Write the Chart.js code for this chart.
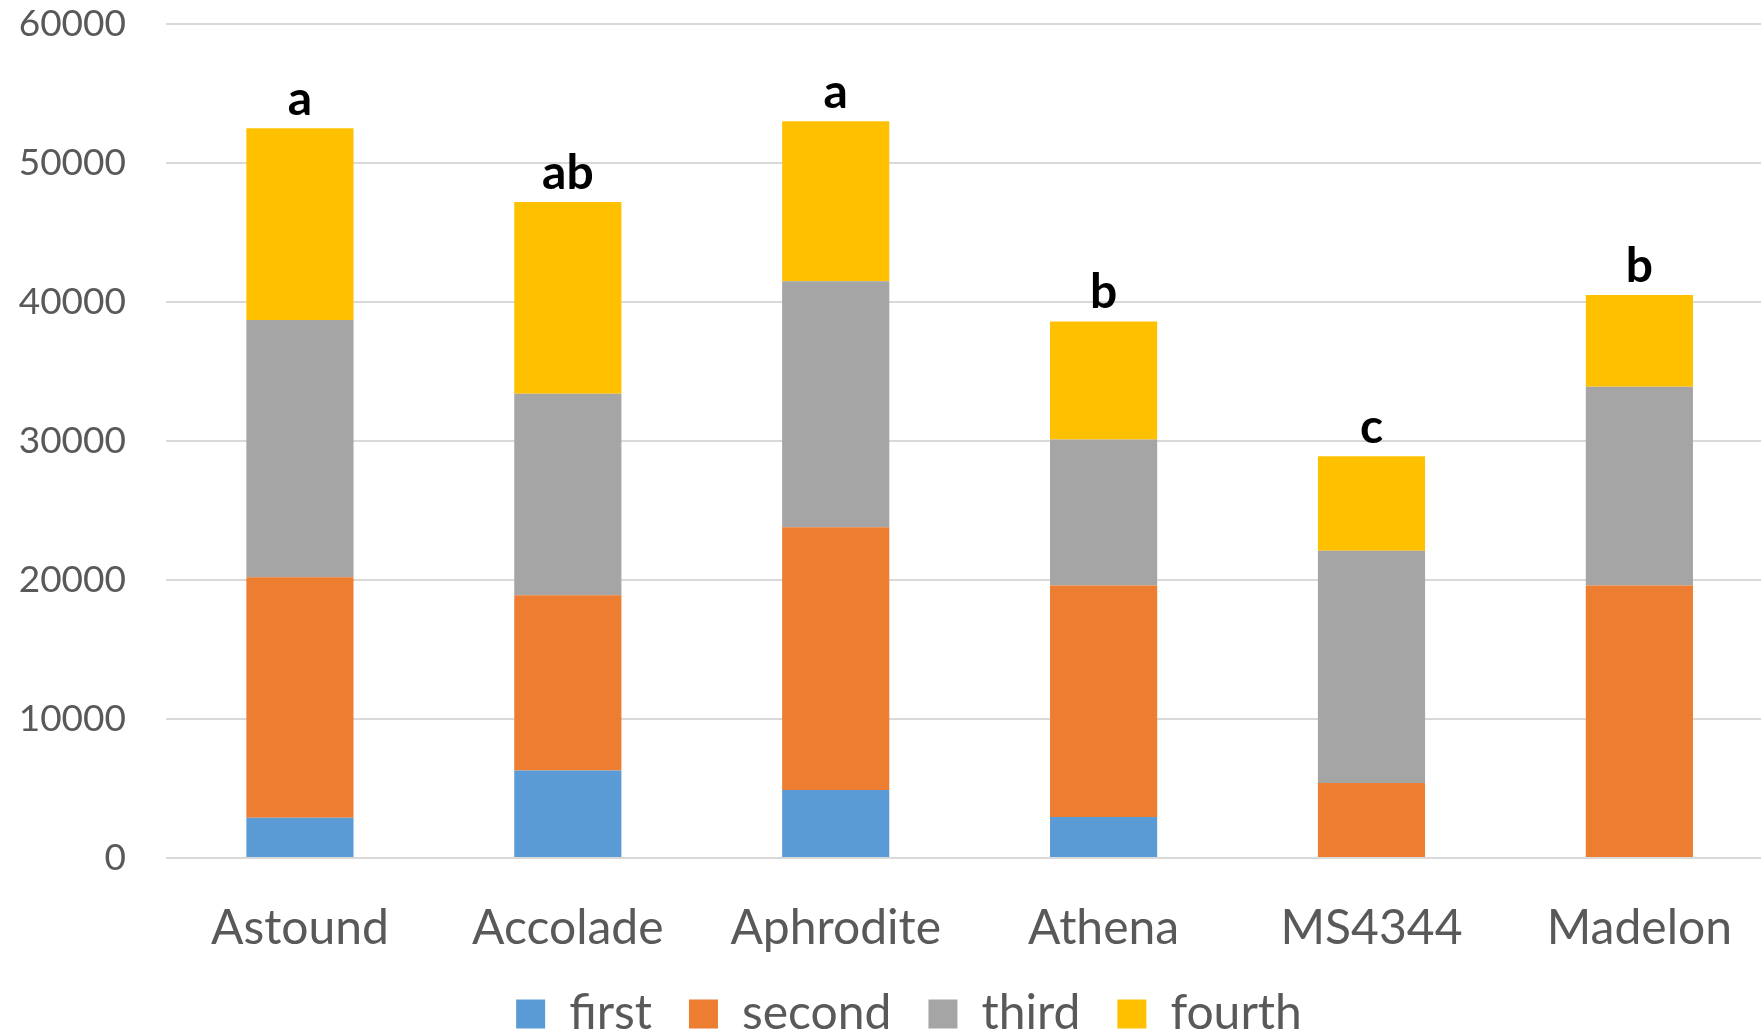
<!DOCTYPE html>
<html><head><meta charset="utf-8">
<script src="https://cdn.jsdelivr.net/npm/chart.js@4/dist/chart.umd.min.js"></script>
<style>
html,body{margin:0;padding:0;background:#fff;overflow:hidden;}
#wrap{position:relative;width:1774px;height:1048px;}
</style></head><body>
<div id="wrap"><canvas id="c"></canvas></div>
<script>
const categories = ['Astound','Accolade','Aphrodite','Athena','MS4344','Madelon'];
const firstVals  = [2900, 6300, 4900, 2950, 0, 0];
const secondVals = [17300, 12600, 18900, 16650, 5400, 19600];
const thirdVals  = [18500, 14500, 17700, 10500, 16700, 14300];
const fourthVals = [13800, 13800, 11500, 8500, 6800, 6600];
const groupLetters = ['a','ab','a','b','c','b'];
const seriesNames = ['first','second','third','fourth'];
const yTicks = [0,10000,20000,30000,40000,50000,60000];

const FONT = 'Lato';
const letterPlugin = {
  id:'letters',
  afterLayout(chart){
    const lg = chart.legend;
    if (lg) { lg.left += 22; lg.right += 22; }
  },
  afterDatasetsDraw(chart){
    const {ctx, scales:{x,y}} = chart;
    ctx.save();
    ctx.font = 'bold 48px ' + FONT;
    ctx.fillStyle = '#000';
    ctx.textAlign = 'center';
    ctx.textBaseline = 'alphabetic';
    categories.forEach((c,i)=>{
      const total = chart.data.datasets.reduce((s,d)=>s+(d.data[i]||0),0);
      ctx.fillText(groupLetters[i], x.getPixelForValue(i), y.getPixelForValue(total)-13);
    });
    ctx.restore();
  }
};

const colors = ['#5B9BD5','#ED7D31','#A5A5A5','#FFC000'];
const allVals = [firstVals, secondVals, thirdVals, fourthVals];

new Chart(document.getElementById('c'), {
  type:'bar',
  data:{
    labels: categories,
    datasets: seriesNames.map((n,i)=>({
      label:n, data: allVals[i], backgroundColor: colors[i], borderWidth:0,
      barPercentage:0.4, categoryPercentage:1.0
    }))
  },
  options:{
    responsive:true, maintainAspectRatio:false, animation:false, devicePixelRatio:1,
    layout:{padding:{top:24,left:0,right:0,bottom:0}},
    plugins:{
      legend:{position:'bottom', labels:{boxWidth:29, boxHeight:29, padding:37, color:'#595959', font:{family:FONT, size:48}}},
      tooltip:{enabled:false}
    },
    scales:{
      x:{stacked:true, grid:{display:false, drawTicks:false}, border:{display:false},
         afterFit(s){ s.height = 95; },
         ticks:{color:'#595959', font:{family:FONT, size:48}, padding:42, maxRotation:0, autoSkip:false}},
      y:{stacked:true, min:0, max:60000,
         afterBuildTicks(s){ s.ticks = yTicks.map(v=>({value:v})); },
         afterFit(s){ s.width = 166; s.paddingTop = 0; s.paddingBottom = 0; },
         grid:{color:'#D9D9D9', lineWidth:2, drawTicks:false}, border:{display:false},
         ticks:{color:'#595959', font:{family:FONT, size:37}, padding:40, callback:v=>String(v)}}
    }
  },
  plugins:[letterPlugin]
});
</script>
</body></html>
